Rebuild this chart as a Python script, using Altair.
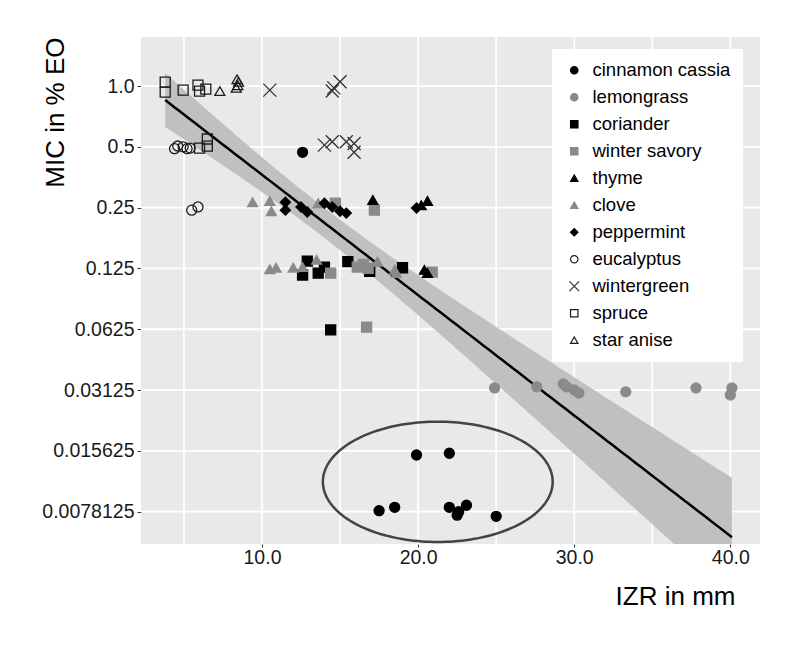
import altair as alt
import numpy as np
import pandas as pd

FONT = "Liberation Sans"

species_order = ["cinnamon cassia", "lemongrass", "coriander", "winter savory", "thyme",
                 "clove", "peppermint", "eucalyptus", "wintergreen", "spruce", "star anise"]
shape_range = ["circle", "circle", "square", "square", "triangle-up", "triangle-up",
               "diamond", "circle", "M-1.3,-1.3L1.3,1.3M1.3,-1.3L-1.3,1.3", "square", "triangle-up"]
fill_range = ["#000000", "#8a8a8a", "#000000", "#8a8a8a", "#000000", "#8a8a8a",
              "#000000", "transparent", "transparent", "transparent", "transparent"]
stroke_range = ["#000000", "#8a8a8a", "#000000", "#8a8a8a", "#000000", "#8a8a8a",
                "#000000", "#1a1a1a", "#333333", "#1a1a1a", "#1a1a1a"]

cinnamon_x = [12.6, 19.9, 22.0, 17.5, 18.5, 22.0, 22.5, 22.6, 23.1, 25.0]
cinnamon_y = [0.47, 0.0149, 0.0152, 0.0079, 0.0082, 0.0082, 0.0075, 0.0078, 0.0084, 0.0074]

lemongrass_x = [24.9, 27.6, 29.3, 29.5, 30.0, 30.3, 33.3, 37.8, 40.1, 40.0]
lemongrass_y = [0.0320, 0.0324, 0.0335, 0.0324, 0.0313, 0.0302, 0.0306, 0.0320, 0.0320, 0.0295]

coriander_x = [12.9, 12.6, 13.6, 14.0, 15.5, 16.9, 19.0, 14.4]
coriander_y = [0.136, 0.116, 0.1185, 0.127, 0.135, 0.121, 0.126, 0.062]

winter_savory_x = [14.7, 17.2, 14.4, 16.1, 16.5, 16.8, 20.9, 16.7]
winter_savory_y = [0.263, 0.243, 0.1185, 0.127, 0.131, 0.125, 0.120, 0.064]

thyme_x = [17.1, 20.2, 20.6, 20.4, 20.6]
thyme_y = [0.273, 0.257, 0.270, 0.123, 0.1185]

clove_x = [9.4, 10.5, 10.6, 13.6, 10.5, 10.9, 12.0, 12.6, 13.5, 17.4, 18.5, 18.6]
clove_y = [0.266, 0.270, 0.240, 0.263, 0.124, 0.126, 0.126, 0.127, 0.138, 0.135, 0.123, 0.1185]

peppermint_x = [11.5, 11.5, 12.5, 12.9, 14.0, 14.5, 15.0, 15.4, 19.9]
peppermint_y = [0.266, 0.243, 0.252, 0.238, 0.263, 0.252, 0.240, 0.235, 0.249]

eucalyptus_x = [4.4, 4.6, 4.95, 5.2, 5.4, 5.5, 5.9]
eucalyptus_y = [0.49, 0.505, 0.50, 0.49, 0.493, 0.243, 0.252]

wintergreen_x = [10.5, 14.5, 14.6, 15.0, 14.0, 14.5, 15.4, 15.9, 15.9]
wintergreen_y = [0.955, 0.945, 0.98, 1.05, 0.51, 0.53, 0.53, 0.52, 0.47]

spruce_x = [3.8, 3.8, 4.95, 5.9, 6.0, 6.4, 6.5, 6.5, 6.0]
spruce_y = [1.047, 0.934, 0.955, 1.01, 0.945, 0.966, 0.547, 0.504, 0.493]

star_anise_x = [7.3, 8.35, 8.45, 8.5, 8.4]
star_anise_y = [0.945, 0.98, 1.01, 1.05, 1.08]

y_ticks = [1.0, 0.5, 0.25, 0.125, 0.0625, 0.03125, 0.015625, 0.0078125]
x_ticks = [10, 20, 30, 40]
x_grid = [5, 10, 15, 20, 25, 30, 35, 40]

# fitted trend line (log2 of MIC at both ends)
fit_x_ends = [3.8, 40.1]
fit_log2_ends = [-0.23, -7.42]
# confidence band: narrowest half-width (log2 units) at band_center_x,
# widening with distance from it
band_center_x = 14.0
band_min_half = 0.247
band_growth = 0.0362

# ellipse annotation (data units: mm, log2 of MIC)
ell_cx, ell_cy_log2, ell_rx, ell_ry_log2 = 21.26, -6.51, 7.36, 0.99

series = [
    ("cinnamon cassia", cinnamon_x, cinnamon_y),
    ("lemongrass", lemongrass_x, lemongrass_y),
    ("coriander", coriander_x, coriander_y),
    ("winter savory", winter_savory_x, winter_savory_y),
    ("thyme", thyme_x, thyme_y),
    ("clove", clove_x, clove_y),
    ("peppermint", peppermint_x, peppermint_y),
    ("eucalyptus", eucalyptus_x, eucalyptus_y),
    ("wintergreen", wintergreen_x, wintergreen_y),
    ("spruce", spruce_x, spruce_y),
    ("star anise", star_anise_x, star_anise_y),
]
rows = []
for name, xs, ys in series:
    for xv, yv in zip(xs, ys):
        rows.append({"species": name, "izr": xv, "mic": yv})
points_df = pd.DataFrame(rows)

slope = (fit_log2_ends[1] - fit_log2_ends[0]) / (fit_x_ends[1] - fit_x_ends[0])
gx = np.linspace(fit_x_ends[0], fit_x_ends[1], 120)
gfit = fit_log2_ends[0] + slope * (gx - fit_x_ends[0])
half = np.sqrt(band_min_half ** 2 + (band_growth * (gx - band_center_x)) ** 2)
fit_df = pd.DataFrame({"izr": gx, "mic": 2 ** gfit,
                       "lo": 2 ** (gfit - half), "hi": 2 ** (gfit + half)})

tt = np.linspace(0, 2 * np.pi, 181)
ell_df = pd.DataFrame({"izr": ell_cx + ell_rx * np.cos(tt),
                       "mic": 2 ** (ell_cy_log2 + ell_ry_log2 * np.sin(tt)),
                       "k": np.arange(len(tt))})

xgrid_df = pd.DataFrame({"izr": x_grid})
ygrid_df = pd.DataFrame({"mic": y_ticks})

xscale = alt.Scale(domain=[2.25, 41.9], nice=False, zero=False)
yscale = alt.Scale(type="log", base=2, domain=[0.0054, 1.75], nice=False)

xaxis = alt.Axis(values=x_ticks, format=".1f", title="IZR in mm", grid=False, domain=False,
                 tickColor="#333333", tickSize=3, tickWidth=1,
                 labelFont=FONT, labelFontSize=19.5, labelColor="#1a1a1a", labelPadding=1,
                 titleFont=FONT, titleFontSize=26, titleFontWeight="normal", titleColor="#000000",
                 titleX=594, titleY=60, titleAlign="right", titleBaseline="alphabetic")
yaxis = alt.Axis(values=y_ticks,
                 labelExpr="datum.value >= 1 ? '1.0' : toString(datum.value)",
                 title="MIC  in % EO", grid=False, domain=False,
                 tickColor="#333333", tickSize=4, tickWidth=1,
                 labelFont=FONT, labelFontSize=19.5, labelColor="#1a1a1a", labelPadding=3,
                 titleFont=FONT, titleFontSize=26, titleFontWeight="normal", titleColor="#000000",
                 titleX=-86, titleY=0, titleAngle=270, titleAlign="right", titleBaseline="middle")

X = alt.X("izr:Q", scale=xscale, axis=xaxis)
Y = alt.Y("mic:Q", scale=yscale, axis=yaxis)

xgrid = alt.Chart(xgrid_df).mark_rule(color="white", strokeWidth=1.8).encode(x=X)
ygrid = alt.Chart(ygrid_df).mark_rule(color="white", strokeWidth=1.8).encode(y=Y)

band = alt.Chart(fit_df).mark_area(color="#c0c0c0", opacity=1, clip=True).encode(
    x=X, y=alt.Y("lo:Q", scale=yscale, axis=yaxis), y2="hi:Q")
line = alt.Chart(fit_df).mark_line(color="#000000", strokeWidth=2.5).encode(x=X, y=Y)

ellipse = alt.Chart(ell_df).mark_line(color="#444444", strokeWidth=2.5).encode(
    x=X, y=Y, order="k:Q")

leg = alt.Legend(title=None, orient="none", legendX=411, legendY=12, fillColor="white",
                 padding=12, labelFont=FONT, labelFontSize=18.5, labelColor="#000000",
                 symbolSize=55, symbolStrokeWidth=1.2, symbolOffset=1, rowPadding=8,
                 labelOffset=9)

pts = alt.Chart(points_df).mark_point(size=100, strokeWidth=1.3, opacity=1).encode(
    x=X, y=Y,
    shape=alt.Shape("species:N", scale=alt.Scale(domain=species_order, range=shape_range), legend=leg),
    fill=alt.Fill("species:N", scale=alt.Scale(domain=species_order, range=fill_range), legend=leg),
    stroke=alt.Stroke("species:N", scale=alt.Scale(domain=species_order, range=stroke_range), legend=leg),
)

chart = alt.layer(xgrid, ygrid, band, line, pts, ellipse).properties(
    width=619, height=507,
    autosize=alt.AutoSizeParams(type="none"),
    padding={"left": 133, "top": 29, "right": 32, "bottom": 93},
    background="white",
).configure_view(fill="#e9e9e9", strokeWidth=0)

chart.save("out.html", embed_options={"renderer": "svg", "actions": False})
